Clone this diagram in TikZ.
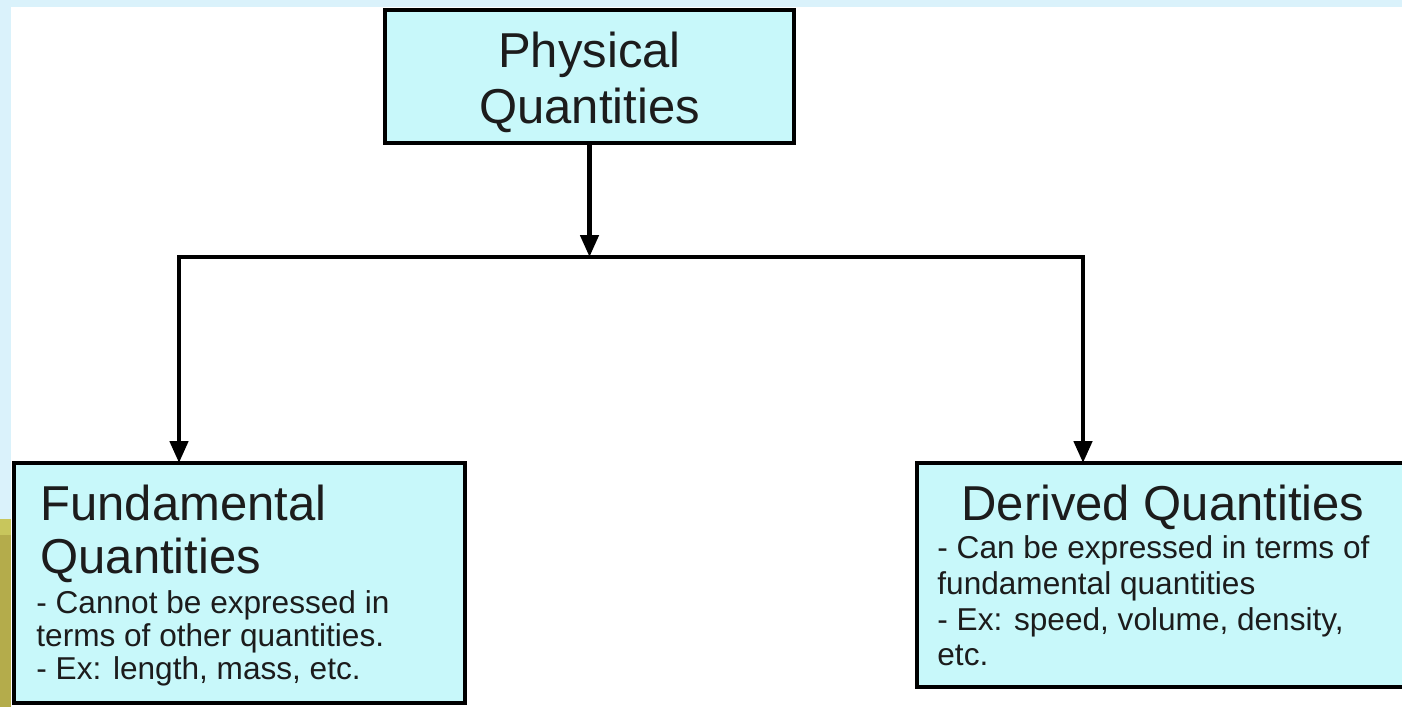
\documentclass[tikz,border=0pt]{standalone}
\usepackage{fontspec}
\setmainfont{Liberation Sans}
\usetikzlibrary{arrows.meta}
\definecolor{stripcyan}{HTML}{DAF2FB}
\definecolor{boxcyan}{HTML}{C8F8FA}
\definecolor{lightyel}{HTML}{C8C65C}
\definecolor{olivec}{HTML}{B4AC4B}
\definecolor{inkc}{HTML}{1C1C1C}
\tikzset{
  boxnode/.style={draw=black, line width=2.4pt, fill=boxcyan, inner sep=0pt, outer sep=0pt, anchor=north west},
  bigtext/.style={font=\fontsize{24.5}{28}\selectfont, text=inkc, inner sep=0pt},
  smalltext/.style={font=\fontsize{15.8}{17.5}\selectfont, text=inkc, inner sep=0pt, anchor=base west},
  conn/.style={line width=2.3pt, draw=black, line join=miter},
  tipd/.tip={Triangle[length=11pt,width=9pt]}
}
\begin{document}
\begin{tikzpicture}[x=0.5pt,y=-0.5pt]
\useasboundingbox (0,0) rectangle (1402,707);
\clip (0,0) rectangle (1402,707);
% background
\fill[white] (0,0) rectangle (1402,707);
\fill[stripcyan] (0,0) rectangle (1402,7);
\fill[stripcyan] (0,0) rectangle (11,707);
\fill[lightyel] (0,519) rectangle (11,535);
\fill[olivec] (0,535) rectangle (11,707);
% boxes
\node[boxnode, minimum width=204.5pt, minimum height=66.5pt] (top) at (385,10) {};
\node[boxnode, minimum width=225.5pt, minimum height=120pt] (fund) at (14,463) {};
\node[boxnode, minimum width=247.5pt, minimum height=112pt] (der) at (917,463) {};
% top text
\node[bigtext, anchor=base] (t1) at (589.5,67) {Physical};
\node[bigtext, anchor=base] (t2) at (589.5,123) {Quantities};
% fundamental text
\node[bigtext, anchor=base west] (f1) at (40,520) {Fundamental};
\node[bigtext, anchor=base west] (f2) at (40,573) {Quantities};
\node[smalltext] (f3) at (36,613) {- Cannot be expressed in};
\node[smalltext] (f4) at (36,646) {terms of other quantities.};
\node[smalltext] (f5) at (36,679) {- Ex: length, mass, etc.};
% derived text
\node[bigtext, anchor=base west] (d1) at (961,520) {Derived Quantities};
\node[smalltext] (d2) at (937,558) {- Can be expressed in terms of};
\node[smalltext] (d3) at (937,594) {fundamental quantities};
\node[smalltext] (d4) at (937,630) {- Ex: speed, volume, density,};
\node[smalltext] (d5) at (937,665) {etc.};
% connectors
\coordinate (hub) at (589.5,257);
\coordinate (jL) at (179,257);
\coordinate (jR) at (1083,257);
\draw[conn, -tipd] (top.south) -- (hub);
\draw[conn, tipd-tipd] (jL |- fund.north) -- (jL) -- (jR) -- (jR |- der.north);
\end{tikzpicture}
\end{document}
